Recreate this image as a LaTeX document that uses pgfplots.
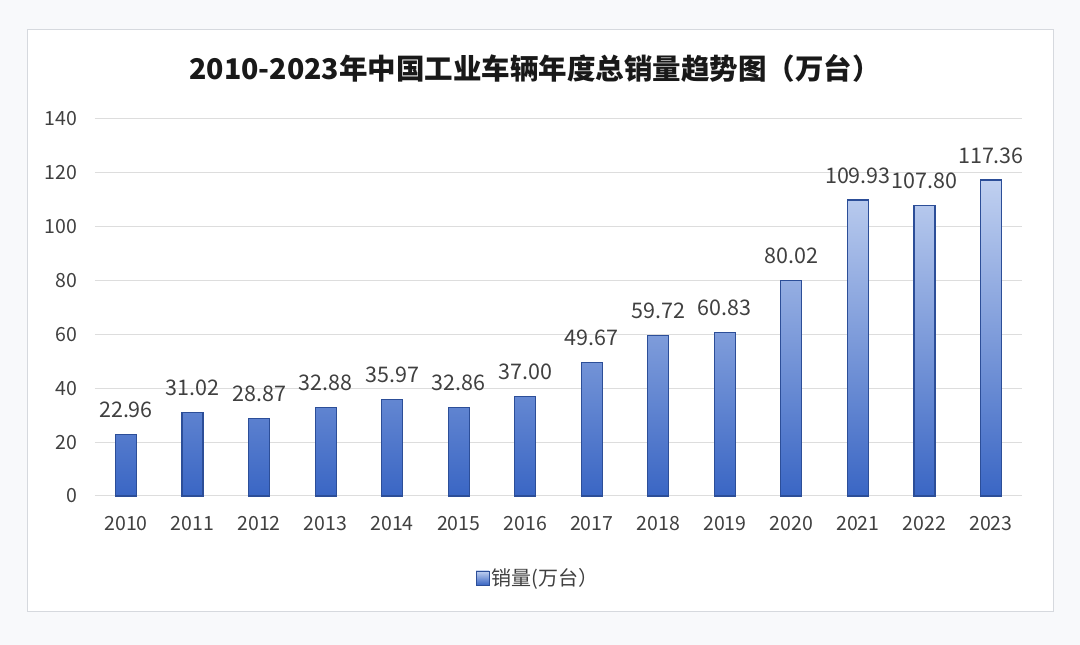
\documentclass[border=0pt]{standalone}
\usepackage{fontspec}
\setmainfont{Noto Sans CJK SC}
\usepackage{pgfplots}
\usepackage{pgfplotstable}
\pgfplotsset{compat=1.18}
\definecolor{barTop}{HTML}{C0D0F0}
\definecolor{barBot}{HTML}{3A66C4}
\definecolor{barEdge}{HTML}{2C4E98}
\definecolor{gridc}{HTML}{DDDDDD}
\definecolor{txt}{HTML}{404040}
\definecolor{bgc}{HTML}{F8F9FB}
\definecolor{framec}{HTML}{D6D9DE}
\pgfplotstableread{
x y lab
0 22.96 22.96
1 31.02 31.02
2 28.87 28.87
3 32.88 32.88
4 35.97 35.97
5 32.86 32.86
6 37.00 37.00
7 49.67 49.67
8 59.72 59.72
9 60.83 60.83
10 80.02 80.02
11 109.93 109.93
12 107.80 107.80
13 117.36 117.36
}\sales
\begin{document}
\begin{tikzpicture}[x=1pt,y=1pt]
\fill[bgc] (0,0) rectangle (1080,645);
\filldraw[fill=white, draw=framec, line width=1pt] (27,33) rectangle (1053,615);
\node[font=\fontsize{28.5}{32}\selectfont\bfseries, text=black!90] at (535,577) {2010-2023年中国工业车辆年度总销量趋势图（万台）};
\begin{axis}[
  at={(95pt,149pt)}, anchor=south west,
  scale only axis, width=927pt, height=377pt,
  xmin=-0.466, xmax=13.466, ymin=0, ymax=140,
  ytick={0,20,...,140},
  xtick={0,...,13},
  xticklabels={2010,2011,2012,2013,2014,2015,2016,2017,2018,2019,2020,2021,2022,2023},
  axis line style={draw=none},
  tick style={draw=none},
  ymajorgrids, grid style={gridc, line width=1pt},
  tick label style={font=\fontsize{19.5}{22}\selectfont, text=txt},
  /pgf/number format/assume math mode=true,
  xticklabel style={yshift=-17pt},
  yticklabel style={xshift=-14pt},
  legend style={at={(0.478,-0.2175)}, anchor=center, draw=none, fill=none,
    font=\fontsize{20}{22}\selectfont, text=txt},
  legend image code/.code={\draw[barEdge, top color=barTop, bottom color=barBot, line width=0.8pt] (0pt,-7pt) rectangle (13pt,7pt);},
  clip=false,
]
\addplot[ybar, bar width=21pt, draw=barEdge, line width=1.1pt,
  top color=barTop, bottom color=barBot,
  point meta=explicit symbolic,
  nodes near coords,
  nodes near coords style={font=\fontsize{21.5}{24}\selectfont, text=txt, anchor=south, yshift=16pt, inner sep=0pt},
] table[x=x, y=y, meta=lab] {\sales};
\addlegendentry{销量(万台）}
\end{axis}
\end{tikzpicture}
\end{document}
